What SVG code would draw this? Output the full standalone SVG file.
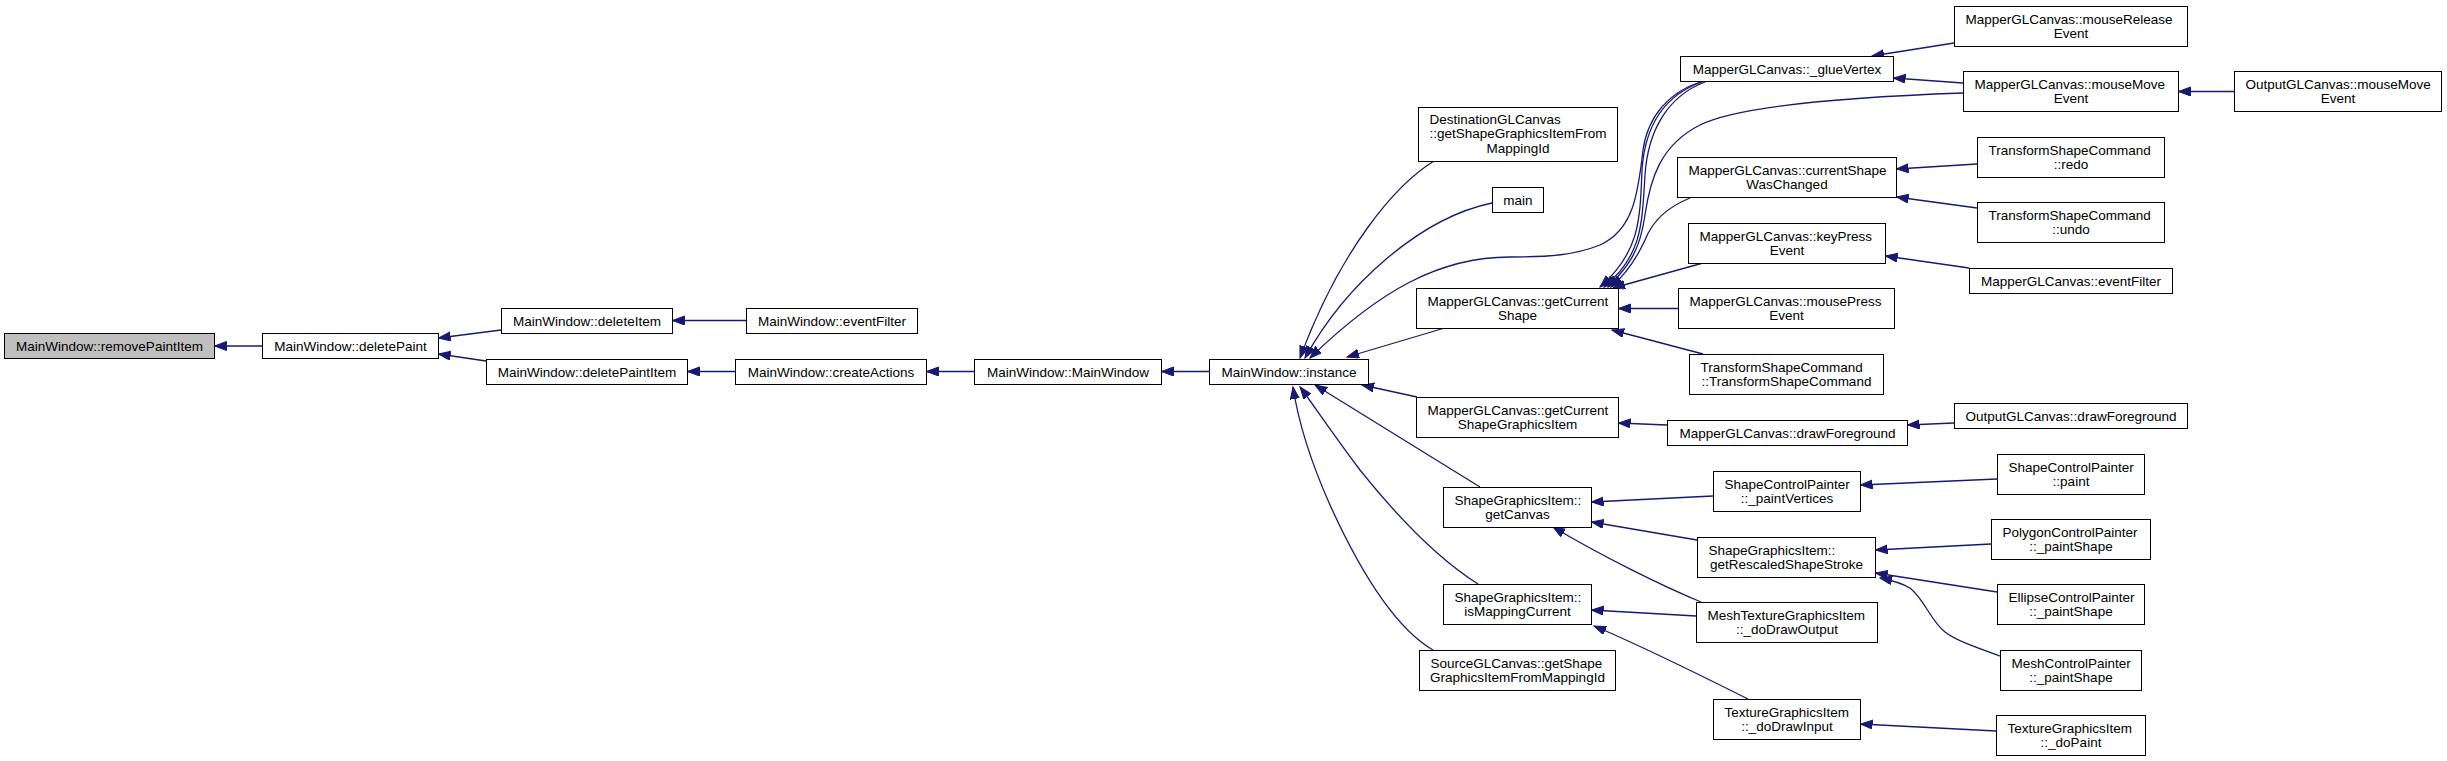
<svg xmlns="http://www.w3.org/2000/svg" width="2447" height="761" viewBox="0 0 2447 761">
<style>
rect{fill:#fff;stroke:#000;stroke-width:1}
rect.hl{fill:#bfbfbf}
text{font-family:"Liberation Sans",Arial,sans-serif;font-size:13.5px;fill:#000}
.c{text-anchor:middle}
.l{text-anchor:start}
#edges path{fill:none;stroke:#191970;stroke-width:1.3;marker-end:url(#a)}
</style>
<defs>
<marker id="a" markerUnits="userSpaceOnUse" markerWidth="14" markerHeight="10" refX="12" refY="4.5" orient="auto">
<path d="M0,0 L12,4.5 L0,9 z" fill="#191970" stroke="#191970" stroke-width="1"/>
</marker>
</defs>
<rect x="0" y="0" width="2447" height="761" style="fill:#fff;stroke:none"/>
<g id="edges">
<path d="M262,346 L214.5,346"/>
<path d="M501,330 L438.5,338"/>
<path d="M486,361 L438.5,354"/>
<path d="M746,320.5 L672.5,320.5"/>
<path d="M735,371.5 L687.5,371.5"/>
<path d="M974,371.5 L926.5,371.5"/>
<path d="M1209,371.5 L1161.5,371.5"/>
<path d="M1434,161 C1395,185 1340,250 1300,358"/>
<path d="M1492,203 C1420,218 1345,285 1305,358"/>
<path d="M1700,82 C1670,92 1648,115 1643,150 C1638,195 1633,230 1600,245 C1575,255 1550,257 1510,257 C1440,257 1380,290 1310,358"/>
<path d="M1702,82 C1665,95 1645,125 1642,170 C1640,220 1640,252 1600,287"/>
<path d="M1705,82 C1668,96 1648,130 1645,175 C1642,225 1642,256 1604,287"/>
<path d="M1963,93 C1850,97 1740,105 1700,125 C1660,145 1650,180 1645,215 C1640,250 1630,265 1608,287"/>
<path d="M1690,198 C1665,208 1652,222 1645,240 C1635,262 1625,275 1611,287"/>
<path d="M1703,263 L1613,288"/>
<path d="M1678,308.5 L1618.5,308.5"/>
<path d="M1703,354 L1612,330"/>
<path d="M1443,328.5 L1347,357"/>
<path d="M1417,397 L1362,385"/>
<path d="M1480,487 L1315,385"/>
<path d="M1478,584 C1440,560 1400,520 1360,470 C1330,430 1310,400 1300,387"/>
<path d="M1433,650 C1390,625 1355,560 1330,505 C1310,460 1298,420 1293,387"/>
<path d="M1713,496 L1591.5,502"/>
<path d="M1697,540 L1591.5,522"/>
<path d="M1701,602 C1660,585 1600,555 1553,527"/>
<path d="M1696,616 L1591.5,610"/>
<path d="M1748,699 C1700,675 1640,645 1594,626"/>
<path d="M1997,479 L1860.5,485"/>
<path d="M1991,544 L1875.5,550"/>
<path d="M1997,592 L1875.5,573"/>
<path d="M2000,656 C1975,647 1955,640 1945,632 C1930,620 1925,600 1910,588 C1900,582 1890,580 1880,578"/>
<path d="M1996,731 L1860.5,724"/>
<path d="M1954,423 L1907.5,425"/>
<path d="M1667,425 L1618.5,423"/>
<path d="M1954,43 L1872,56"/>
<path d="M1963,83 L1893.5,78"/>
<path d="M2234,91.5 L2178.5,91.5"/>
<path d="M1977,164 L1896.5,169"/>
<path d="M1977,208 L1896.5,197"/>
<path d="M1969,268 L1885.5,256"/>
</g>
<g id="n1"><rect class="hl" x="4.5" y="333.5" width="210" height="25"/><text class="c" x="109.5" y="350.8">MainWindow::removePaintItem</text></g>
<g id="n2"><rect x="262.5" y="333.5" width="176" height="25"/><text class="c" x="350.5" y="350.8">MainWindow::deletePaint</text></g>
<g id="n3"><rect x="501.5" y="308.5" width="171" height="25"/><text class="c" x="587" y="325.8">MainWindow::deleteItem</text></g>
<g id="n4"><rect x="486.5" y="359.5" width="201" height="25"/><text class="c" x="587" y="376.8">MainWindow::deletePaintItem</text></g>
<g id="n5"><rect x="746.5" y="308.5" width="171" height="25"/><text class="c" x="832" y="325.8">MainWindow::eventFilter</text></g>
<g id="n6"><rect x="735.5" y="359.5" width="191" height="25"/><text class="c" x="831" y="376.8">MainWindow::createActions</text></g>
<g id="n7"><rect x="974.5" y="359.5" width="187" height="25"/><text class="c" x="1068" y="376.8">MainWindow::MainWindow</text></g>
<g id="n8"><rect x="1209.5" y="359.5" width="159" height="25"/><text class="c" x="1289" y="376.8">MainWindow::instance</text></g>
<g id="n9"><rect x="1418.5" y="107.5" width="199" height="54"/><text class="l" x="1429.5" y="123.5">DestinationGLCanvas</text><text class="l" x="1429.5" y="138">::getShapeGraphicsItemFrom</text><text class="c" x="1518" y="152.5">MappingId</text></g>
<g id="n10"><rect x="1492.5" y="187.5" width="51" height="25"/><text class="c" x="1518" y="204.8">main</text></g>
<g id="n11"><rect x="1680.5" y="56.5" width="213" height="25"/><text class="c" x="1787" y="73.8">MapperGLCanvas::_glueVertex</text></g>
<g id="n12"><rect x="1677.5" y="157.5" width="219" height="40"/><text class="l" x="1688.5" y="174.5">MapperGLCanvas::currentShape</text><text class="c" x="1787" y="189">WasChanged</text></g>
<g id="n13"><rect x="1688.5" y="223.5" width="197" height="40"/><text class="l" x="1699.5" y="240.5">MapperGLCanvas::keyPress</text><text class="c" x="1787" y="255">Event</text></g>
<g id="n14"><rect x="1416.5" y="288.5" width="202" height="40"/><text class="l" x="1427.5" y="305.5">MapperGLCanvas::getCurrent</text><text class="c" x="1517.5" y="320">Shape</text></g>
<g id="n15"><rect x="1678.5" y="288.5" width="216" height="40"/><text class="l" x="1689.5" y="305.5">MapperGLCanvas::mousePress</text><text class="c" x="1786.5" y="320">Event</text></g>
<g id="n16"><rect x="1689.5" y="354.5" width="194" height="40"/><text class="l" x="1700.5" y="371.5">TransformShapeCommand</text><text class="c" x="1786.5" y="386">::TransformShapeCommand</text></g>
<g id="n17"><rect x="1416.5" y="397.5" width="202" height="40"/><text class="l" x="1427.5" y="414.5">MapperGLCanvas::getCurrent</text><text class="c" x="1517.5" y="429">ShapeGraphicsItem</text></g>
<g id="n18"><rect x="1667.5" y="420.5" width="240" height="25"/><text class="c" x="1787.5" y="437.8">MapperGLCanvas::drawForeground</text></g>
<g id="n19"><rect x="1443.5" y="487.5" width="148" height="40"/><text class="l" x="1454.5" y="504.5">ShapeGraphicsItem::</text><text class="c" x="1517.5" y="519">getCanvas</text></g>
<g id="n20"><rect x="1713.5" y="471.5" width="147" height="40"/><text class="l" x="1724.5" y="488.5">ShapeControlPainter</text><text class="c" x="1787" y="503">::_paintVertices</text></g>
<g id="n21"><rect x="1697.5" y="537.5" width="178" height="40"/><text class="l" x="1708.5" y="554.5">ShapeGraphicsItem::</text><text class="c" x="1786.5" y="569">getRescaledShapeStroke</text></g>
<g id="n22"><rect x="1443.5" y="584.5" width="148" height="40"/><text class="l" x="1454.5" y="601.5">ShapeGraphicsItem::</text><text class="c" x="1517.5" y="616">isMappingCurrent</text></g>
<g id="n23"><rect x="1696.5" y="602.5" width="181" height="40"/><text class="l" x="1707.5" y="619.5">MeshTextureGraphicsItem</text><text class="c" x="1787" y="634">::_doDrawOutput</text></g>
<g id="n24"><rect x="1419.5" y="650.5" width="196" height="40"/><text class="l" x="1430.5" y="667.5">SourceGLCanvas::getShape</text><text class="c" x="1517.5" y="682">GraphicsItemFromMappingId</text></g>
<g id="n25"><rect x="1713.5" y="699.5" width="147" height="40"/><text class="l" x="1724.5" y="716.5">TextureGraphicsItem</text><text class="c" x="1787" y="731">::_doDrawInput</text></g>
<g id="n26"><rect x="1954.5" y="6.5" width="233" height="40"/><text class="l" x="1965.5" y="23.5">MapperGLCanvas::mouseRelease</text><text class="c" x="2071" y="38">Event</text></g>
<g id="n27"><rect x="1963.5" y="71.5" width="215" height="40"/><text class="l" x="1974.5" y="88.5">MapperGLCanvas::mouseMove</text><text class="c" x="2071" y="103">Event</text></g>
<g id="n28"><rect x="2234.5" y="71.5" width="207" height="40"/><text class="l" x="2245.5" y="88.5">OutputGLCanvas::mouseMove</text><text class="c" x="2338" y="103">Event</text></g>
<g id="n29"><rect x="1977.5" y="137.5" width="187" height="40"/><text class="l" x="1988.5" y="154.5">TransformShapeCommand</text><text class="c" x="2071" y="169">::redo</text></g>
<g id="n30"><rect x="1977.5" y="202.5" width="187" height="40"/><text class="l" x="1988.5" y="219.5">TransformShapeCommand</text><text class="c" x="2071" y="234">::undo</text></g>
<g id="n31"><rect x="1969.5" y="268.5" width="203" height="25"/><text class="c" x="2071" y="285.8">MapperGLCanvas::eventFilter</text></g>
<g id="n32"><rect x="1954.5" y="403.5" width="233" height="25"/><text class="c" x="2071" y="420.8">OutputGLCanvas::drawForeground</text></g>
<g id="n33"><rect x="1997.5" y="454.5" width="147" height="40"/><text class="l" x="2008.5" y="471.5">ShapeControlPainter</text><text class="c" x="2071" y="486">::paint</text></g>
<g id="n34"><rect x="1991.5" y="519.5" width="159" height="40"/><text class="l" x="2002.5" y="536.5">PolygonControlPainter</text><text class="c" x="2071" y="551">::_paintShape</text></g>
<g id="n35"><rect x="1997.5" y="584.5" width="147" height="40"/><text class="l" x="2008.5" y="601.5">EllipseControlPainter</text><text class="c" x="2071" y="616">::_paintShape</text></g>
<g id="n36"><rect x="2000.5" y="650.5" width="141" height="40"/><text class="l" x="2011.5" y="667.5">MeshControlPainter</text><text class="c" x="2071" y="682">::_paintShape</text></g>
<g id="n37"><rect x="1996.5" y="715.5" width="149" height="40"/><text class="l" x="2007.5" y="732.5">TextureGraphicsItem</text><text class="c" x="2071" y="747">::_doPaint</text></g>
</svg>
